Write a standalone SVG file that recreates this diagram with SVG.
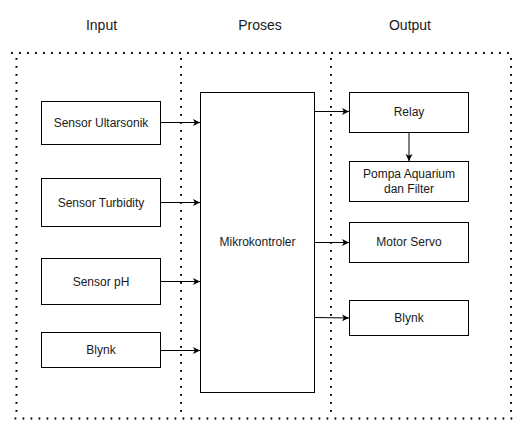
<svg xmlns="http://www.w3.org/2000/svg" width="526" height="430" viewBox="0 0 526 430">
<style>
.box{fill:#fff;stroke:#000;stroke-width:1}
.lbl{font-family:"Liberation Sans",Arial,sans-serif;font-size:12px;fill:#1a1a1a;text-anchor:middle;dominant-baseline:central}
.hdr{font-family:"Liberation Sans",Arial,sans-serif;font-size:14px;fill:#1a1a1a;text-anchor:middle}
.dot{fill:none;stroke:#000;stroke-width:2;stroke-dasharray:1.8 6.2}
.con{fill:none;stroke:#000;stroke-width:1;marker-end:url(#arr)}
</style>
<defs>
<marker id="arr" markerWidth="8" markerHeight="8" refX="7" refY="4" orient="auto" markerUnits="userSpaceOnUse">
<path d="M0,0.5 L7,4 L0,7.5 L1.8,4 Z" fill="#000"/>
</marker>
</defs>
<rect width="526" height="430" fill="#fff"/>
<g id="headers">
<text class="hdr" x="101.5" y="30">Input</text>
<text class="hdr" x="260" y="30">Proses</text>
<text class="hdr" x="410" y="30">Output</text>
</g>
<g id="frame">
<line class="dot" x1="11" y1="53" x2="511" y2="53"/>
<line class="dot" x1="16.5" y1="58" x2="16.5" y2="414"/>
<line class="dot" x1="181" y1="58" x2="181" y2="414"/>
<line class="dot" x1="331" y1="58" x2="331" y2="414"/>
<line class="dot" x1="511" y1="58" x2="511" y2="414"/>
<line class="dot" x1="14.5" y1="418.5" x2="514" y2="418.5"/>
</g>
<g id="connectors">
<line class="con" x1="160.5" y1="122.5" x2="200" y2="122.5"/>
<line class="con" x1="160.5" y1="202.5" x2="200" y2="202.5"/>
<line class="con" x1="160.5" y1="281.5" x2="200" y2="281.5"/>
<line class="con" x1="160.5" y1="350.5" x2="200" y2="350.5"/>
<line class="con" x1="314.5" y1="111.5" x2="349" y2="111.5"/>
<line class="con" x1="409" y1="132.5" x2="409" y2="161"/>
<line class="con" x1="314.5" y1="242.5" x2="349" y2="242.5"/>
<path class="con" d="M314.5,317.5 L349,318"/>
</g>
<g id="sensor-ultrasonik"><rect class="box" x="41.5" y="101.5" width="119" height="43"/><text class="lbl" x="101" y="123">Sensor Ultarsonik</text></g>
<g id="sensor-turbidity"><rect class="box" x="41.5" y="178.5" width="119" height="48"/><text class="lbl" x="101" y="202.5">Sensor Turbidity</text></g>
<g id="sensor-ph"><rect class="box" x="41.5" y="258.5" width="119" height="46"/><text class="lbl" x="101" y="281.5">Sensor pH</text></g>
<g id="blynk-in"><rect class="box" x="41.5" y="332.5" width="119" height="35"/><text class="lbl" x="101" y="350">Blynk</text></g>
<g id="mikrokontroler"><rect class="box" x="200.5" y="92.5" width="114" height="300"/><text class="lbl" x="257.5" y="242">Mikrokontroler</text></g>
<g id="relay"><rect class="box" x="349.5" y="92.5" width="119" height="40"/><text class="lbl" x="409" y="112">Relay</text></g>
<g id="pompa"><rect class="box" x="349.5" y="161.5" width="119" height="40"/><text class="lbl" x="409" y="174">Pompa Aquarium</text><text class="lbl" x="409" y="188.5">dan Filter</text></g>
<g id="motor-servo"><rect class="box" x="349.5" y="222.5" width="119" height="40"/><text class="lbl" x="409" y="242">Motor Servo</text></g>
<g id="blynk-out"><rect class="box" x="349.5" y="300.5" width="119" height="35"/><text class="lbl" x="409" y="318">Blynk</text></g>
</svg>
